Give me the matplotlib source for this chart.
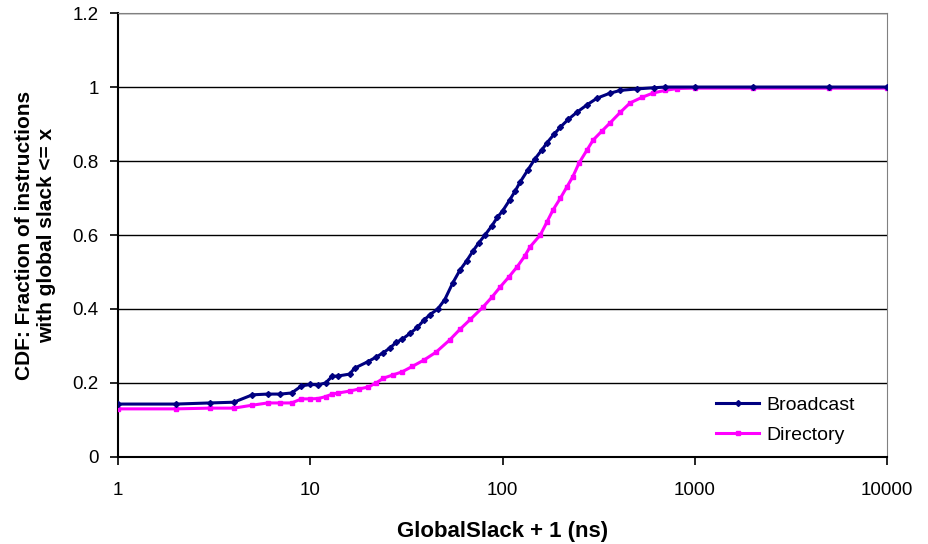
import matplotlib
matplotlib.use("Agg")
import matplotlib.pyplot as plt
from matplotlib.ticker import FuncFormatter, FixedLocator, NullLocator

plt.rcParams['font.family'] = ['Liberation Sans', 'DejaVu Sans']

broadcast_x = [1, 2, 3, 4, 5, 6, 7, 8, 9, 10, 11, 12, 13, 14, 16, 17, 20, 22, 24, 26,
               28, 30, 33, 36, 39, 42, 46, 50, 55, 60, 65, 70, 75, 81, 88, 94, 100,
               109, 116, 123, 135, 147, 160, 170, 185, 200, 220, 245, 275, 310, 360,
               410, 500, 610, 700, 1000, 2000, 5000, 10000]
broadcast_y = [0.143, 0.143, 0.146, 0.148, 0.168, 0.170, 0.170, 0.173, 0.192, 0.196,
               0.195, 0.200, 0.218, 0.219, 0.224, 0.240, 0.258, 0.270, 0.282, 0.295,
               0.310, 0.318, 0.334, 0.350, 0.370, 0.385, 0.400, 0.425, 0.470, 0.505,
               0.530, 0.556, 0.578, 0.600, 0.625, 0.648, 0.665, 0.695, 0.718, 0.742,
               0.775, 0.805, 0.830, 0.849, 0.872, 0.892, 0.913, 0.933, 0.952, 0.970,
               0.983, 0.991, 0.995, 0.998, 1.0, 1.0, 1.0, 1.0, 1.0]

directory_x = [1, 2, 3, 4, 5, 6, 7, 8, 9, 10, 11, 12, 13, 14, 16, 18, 20, 22, 24, 27,
               30, 34, 39, 45, 53, 60, 68, 79, 88, 97, 108, 119, 130, 139, 157, 170,
               183, 200, 216, 232, 250, 275, 296, 330, 362, 410, 460, 530, 607, 700,
               810, 1000, 2000, 5000, 10000]
directory_y = [0.130, 0.130, 0.132, 0.132, 0.140, 0.146, 0.146, 0.146, 0.157, 0.157,
               0.158, 0.163, 0.170, 0.173, 0.178, 0.184, 0.189, 0.200, 0.213, 0.222,
               0.230, 0.245, 0.262, 0.283, 0.316, 0.345, 0.372, 0.405, 0.432, 0.459,
               0.487, 0.514, 0.542, 0.568, 0.600, 0.635, 0.668, 0.700, 0.730, 0.758,
               0.795, 0.830, 0.857, 0.882, 0.903, 0.932, 0.957, 0.972, 0.984, 0.991,
               0.996, 0.997, 0.997, 0.997, 0.997]

y_ticks = [0, 0.2, 0.4, 0.6, 0.8, 1.0, 1.2]
x_ticks = [1, 10, 100, 1000, 10000]

fig = plt.figure(figsize=(9.29, 5.44), dpi=100)
ax = fig.add_axes([0.127, 0.160, 0.828, 0.816])

ax.plot(directory_x, directory_y, color='#FF00FF', lw=2.2, marker='s', ms=3,
        label='Directory', zorder=3)
ax.plot(broadcast_x, broadcast_y, color='#000080', lw=2.2, marker='D', ms=3,
        label='Broadcast', zorder=4)

ax.set_xscale('log')
ax.set_xlim(1, 10000)
ax.set_ylim(0, 1.2)
ax.xaxis.set_major_locator(FixedLocator(x_ticks))
ax.xaxis.set_minor_locator(NullLocator())
ax.xaxis.set_major_formatter(FuncFormatter(lambda v, p: '%d' % v))
ax.set_yticks(y_ticks)
ax.yaxis.set_major_formatter(FuncFormatter(lambda v, p: '%g' % v))

ax.grid(axis='y', color='black', lw=1)
ax.set_axisbelow(True)
ax.tick_params(axis='both', direction='out', length=6, width=1.2, labelsize=13.5)
ax.tick_params(axis='x', pad=12)
ax.tick_params(axis='y', pad=8)

for s in ['top', 'right']:
    ax.spines[s].set_color('#808080')
for s in ['left', 'bottom']:
    ax.spines[s].set_color('black')
    ax.spines[s].set_linewidth(1.5)

ax.set_xlabel('GlobalSlack + 1 (ns)', fontsize=16, fontweight='bold', labelpad=16)
ax.set_ylabel('CDF: Fraction of instructions\nwith global slack <= x', fontsize=15,
              fontweight='bold', labelpad=12)

handles, labels = ax.get_legend_handles_labels()
ax.legend(handles[::-1], labels[::-1], loc='center left', bbox_to_anchor=(0.755, 0.083),
          frameon=False, fontsize=14, handlelength=2.2, handletextpad=0.4,
          labelspacing=0.6)

fig.savefig('out.png', dpi=100)
